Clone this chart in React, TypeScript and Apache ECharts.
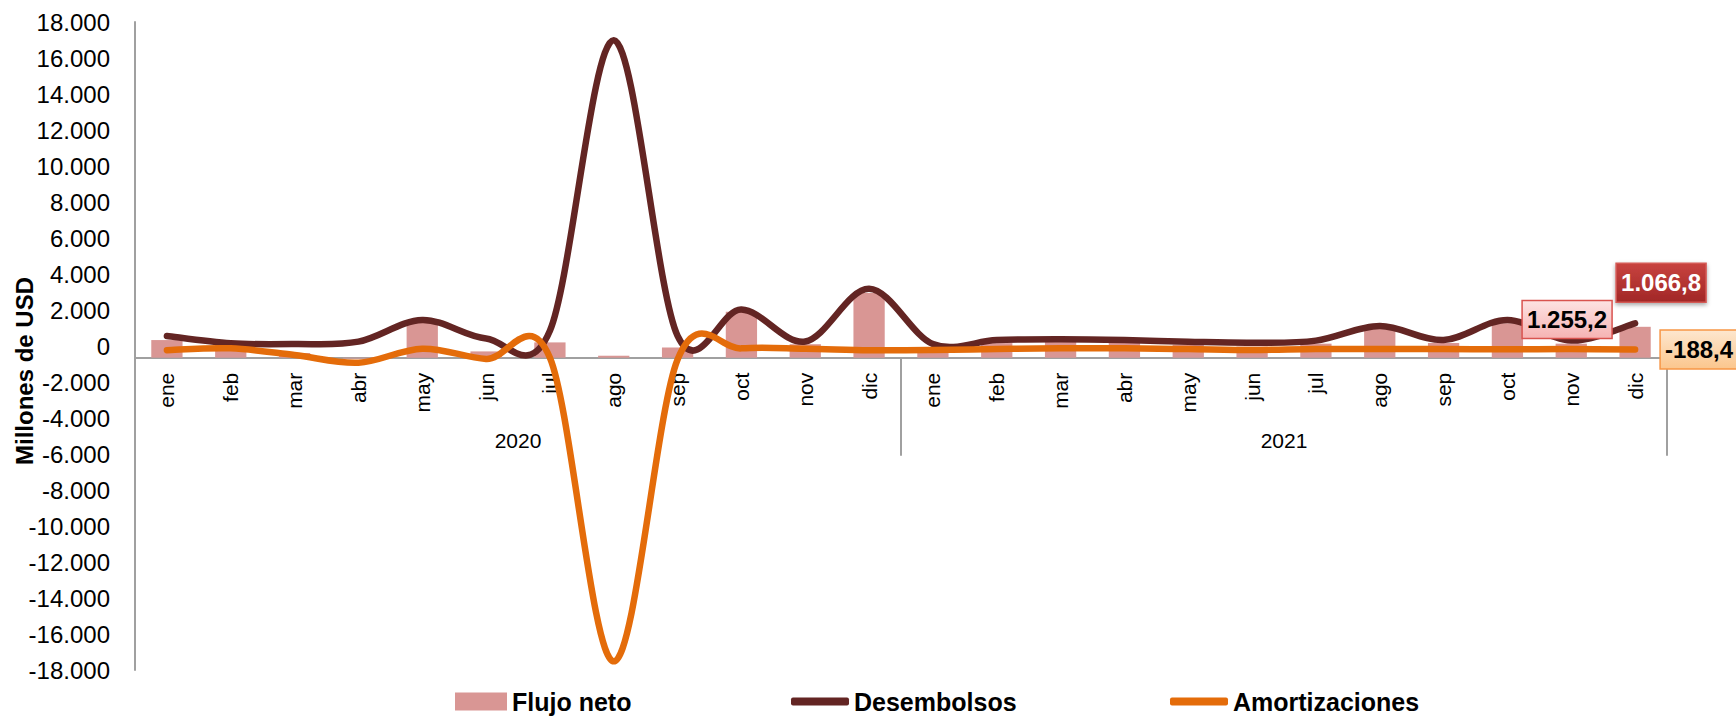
import React, { useEffect, useRef } from "react";
import * as echarts from "echarts";

// ---- data ----
const MONTHS = ["ene", "feb", "mar", "abr", "may", "jun", "jul", "ago", "sep", "oct", "nov", "dic"];
const YEARS = ["2020", "2021"];
const categories = [...MONTHS.map((m) => m + " 2020"), ...MONTHS.map((m) => m + " 2021")];

const flujoNeto = [330, 50, -390, -690, 1300, -300, 200, -540, -90, 1900, 100, 2950,
  -110, 160, 240, 200, 70, -35, 130, 940, 160, 1270, 130, 1066.8];
const desembolsos = [560, 150, 110, 240, 1450, 420, 850, 16980, 560, 2030, 250, 3180,
  110, 330, 370, 330, 240, 185, 300, 1110, 330, 1450, 300, 1255.2];
const amortizaciones = [-230, -130, -500, -930, -150, -720, -650, -17520, -750, -130, -150, -230,
  -220, -170, -130, -130, -170, -220, -170, -170, -170, -180, -170, -188.4];

const Y_MIN = -18000;
const Y_MAX = 18000;
const Y_STEP = 2000;
const AXIS_CROSS = -650; // value where the category axis crosses

// ---- layout / style ----
const W = 1736;
const H = 717;
const GRID_LEFT = 135;
const GRID_TOP = 22;
const GRID_W = 1532;
const GRID_H = 648;
const SANS = '"Liberation Sans", Arial, sans-serif';
const C_BAR = "#d99694";
const C_DES = "#632523";
const C_AMO = "#e46c0a";
const C_AXIS = "#a0a0a0";

function fmt(v: number, decimals = 0): string {
  const neg = v < 0;
  const fixed = Math.abs(v).toFixed(decimals);
  const [int, dec] = fixed.split(".");
  const g = int.replace(/\B(?=(\d{3})+(?!\d))/g, ".");
  return (neg ? "-" : "") + g + (dec ? "," + dec : "");
}

function curveSeries(name: string, values: number[], color: string) {
  return {
    type: "custom",
    name,
    xAxisIndex: 0,
    yAxisIndex: 0,
    itemStyle: { color },
    data: values.map((v, i) => [i, v]),
    encode: { x: 0, y: 1 },
    renderItem: (params: any, api: any) => {
      if (params.dataIndex !== 0) return null;
      const pts = values.map((v, i) => api.coord([i, v]));
      const n = pts.length;
      let d = `M${pts[0][0]},${pts[0][1]}`;
      for (let i = 0; i < n - 1; i++) {
        const p0 = pts[Math.max(i - 1, 0)];
        const p1 = pts[i];
        const p2 = pts[i + 1];
        const p3 = pts[Math.min(i + 2, n - 1)];
        const c1x = p1[0] + (p2[0] - p0[0]) / 6;
        const c1y = p1[1] + (p2[1] - p0[1]) / 6;
        const c2x = p2[0] - (p3[0] - p1[0]) / 6;
        const c2y = p2[1] - (p3[1] - p1[1]) / 6;
        d += ` C${c1x},${c1y} ${c2x},${c2y} ${p2[0]},${p2[1]}`;
      }
      return {
        type: "path",
        shape: { pathData: d },
        style: { fill: "none", stroke: color, lineWidth: 6.5, lineCap: "round", lineJoin: "round" },
      };
    },
  };
}

const LAST = categories.length - 1;
const labelData = [
  [LAST, flujoNeto[LAST]],
  [LAST, desembolsos[LAST]],
  [LAST, amortizaciones[LAST]],
];
const LABEL_STYLES = [
  { dx: 26, dy: -44, w: 90, h: 39, top: "#c8433f", bottom: "#a12727", stroke: "#d45a55", text: "#ffffff", shadow: true },
  { dx: -68, dy: -4, w: 90, h: 38, top: "#fde3e3", bottom: "#f6b3b3", stroke: "#d9534f", text: "#000000", shadow: false },
  { dx: 64, dy: 0, w: 78, h: 39, top: "#fde7cf", bottom: "#fbc68d", stroke: "#f79646", text: "#000000", shadow: false },
];

export default function App() {
  const ref = useRef<HTMLDivElement>(null);

  useEffect(() => {
    document.body.style.margin = "0";
    if (!ref.current) return;
    const chart = echarts.init(ref.current, undefined, { renderer: "svg" });
    const crossOffset = -((AXIS_CROSS - Y_MIN) / (Y_MAX - Y_MIN)) * GRID_H;

    const option: any = {
      animation: false,
      backgroundColor: "#ffffff",
      grid: { left: GRID_LEFT, top: GRID_TOP, width: GRID_W, height: GRID_H, containLabel: false },
      xAxis: [
        {
          type: "category",
          data: categories,
          position: "bottom",
          offset: crossOffset,
          axisLine: { show: true, onZero: false, lineStyle: { color: C_AXIS, width: 2 } },
          axisTick: { show: false },
          axisLabel: {
            interval: 0,
            rotate: 90,
            margin: 15,
            fontSize: 21,
            color: "#000",
            fontFamily: SANS,
            formatter: (v: string) => v.split(" ")[0],
          },
          splitLine: { show: false },
        },
        {
          type: "category",
          data: YEARS,
          position: "bottom",
          offset: crossOffset,
          axisLine: { show: false, onZero: false },
          axisTick: { show: true, length: 98, lineStyle: { color: C_AXIS, width: 2 } },
          axisLabel: { margin: 72, fontSize: 21, color: "#000", fontFamily: SANS },
          splitLine: { show: false },
        },
      ],
      yAxis: {
        type: "value",
        min: Y_MIN,
        max: Y_MAX,
        interval: Y_STEP,
        axisLine: { show: true, lineStyle: { color: C_AXIS, width: 2 } },
        axisTick: { show: false },
        splitLine: { show: false },
        axisLabel: { margin: 25, fontSize: 24, color: "#000", fontFamily: SANS, formatter: (v: number) => fmt(v) },
      },
      legend: [
        {
          data: ["Flujo neto"], left: 455, top: 689, padding: 0, icon: "rect", itemWidth: 52, itemHeight: 18,
          textStyle: { fontFamily: SANS, fontWeight: "bold", fontSize: 25, color: "#000" },
        },
        {
          data: ["Desembolsos"], left: 791, top: 689, padding: 0, icon: "roundRect", itemWidth: 58, itemHeight: 8,
          textStyle: { fontFamily: SANS, fontWeight: "bold", fontSize: 25, color: "#000" },
        },
        {
          data: ["Amortizaciones"], left: 1170, top: 689, padding: 0, icon: "roundRect", itemWidth: 58, itemHeight: 8,
          textStyle: { fontFamily: SANS, fontWeight: "bold", fontSize: 25, color: "#000" },
        },
      ],
      graphic: [
        {
          type: "text",
          x: 24,
          y: 371,
          rotation: Math.PI / 2,
          style: {
            text: "Millones de USD",
            font: 'bold 24px "Liberation Sans", Arial, sans-serif',
            fill: "#000",
            textAlign: "center",
            textVerticalAlign: "middle",
          },
        },
      ],
      series: [
        {
          type: "custom",
          name: "Flujo neto",
          xAxisIndex: 0,
          yAxisIndex: 0,
          itemStyle: { color: C_BAR },
          data: flujoNeto.map((v, i) => [i, v]),
          encode: { x: 0, y: 1 },
          renderItem: (params: any, api: any) => {
            const i = api.value(0);
            const v = api.value(1);
            const top = api.coord([i, v]);
            const base = api.coord([i, AXIS_CROSS]);
            const w = api.size([1, 0])[0] * 0.49;
            return {
              type: "rect",
              shape: { x: top[0] - w / 2, y: Math.min(top[1], base[1]), width: w, height: Math.abs(base[1] - top[1]) },
              style: { fill: C_BAR },
            };
          },
        },
        curveSeries("Desembolsos", desembolsos, C_DES),
        curveSeries("Amortizaciones", amortizaciones, C_AMO),
        {
          type: "custom",
          name: "labels",
          xAxisIndex: 0,
          yAxisIndex: 0,
          data: labelData,
          encode: { x: 0, y: 1 },
          z: 5,
          renderItem: (params: any, api: any) => {
            const s = LABEL_STYLES[params.dataIndex];
            const p = api.coord([api.value(0), api.value(1)]);
            const cx = p[0] + s.dx;
            const cy = p[1] + s.dy;
            return {
              type: "group",
              children: [
                {
                  type: "rect",
                  shape: { x: cx - s.w / 2, y: cy - s.h / 2, width: s.w, height: s.h },
                  style: {
                    fill: new echarts.graphic.LinearGradient(0, 0, 0, 1, [
                      { offset: 0, color: s.top },
                      { offset: 1, color: s.bottom },
                    ]),
                    stroke: s.stroke,
                    lineWidth: 1.5,
                    shadowBlur: s.shadow ? 4 : 0,
                    shadowOffsetY: s.shadow ? 2 : 0,
                    shadowColor: "rgba(0,0,0,0.35)",
                  },
                },
                {
                  type: "text",
                  x: cx,
                  y: cy,
                  style: {
                    text: fmt(api.value(1), 1),
                    fill: s.text,
                    font: `bold 24px ${SANS}`,
                    textAlign: "center",
                    textVerticalAlign: "middle",
                  },
                },
              ],
            };
          },
        },
      ],
    };

    chart.setOption(option);
    return () => chart.dispose();
  }, []);

  return <div ref={ref} style={{ width: W, height: H }} />;
}
